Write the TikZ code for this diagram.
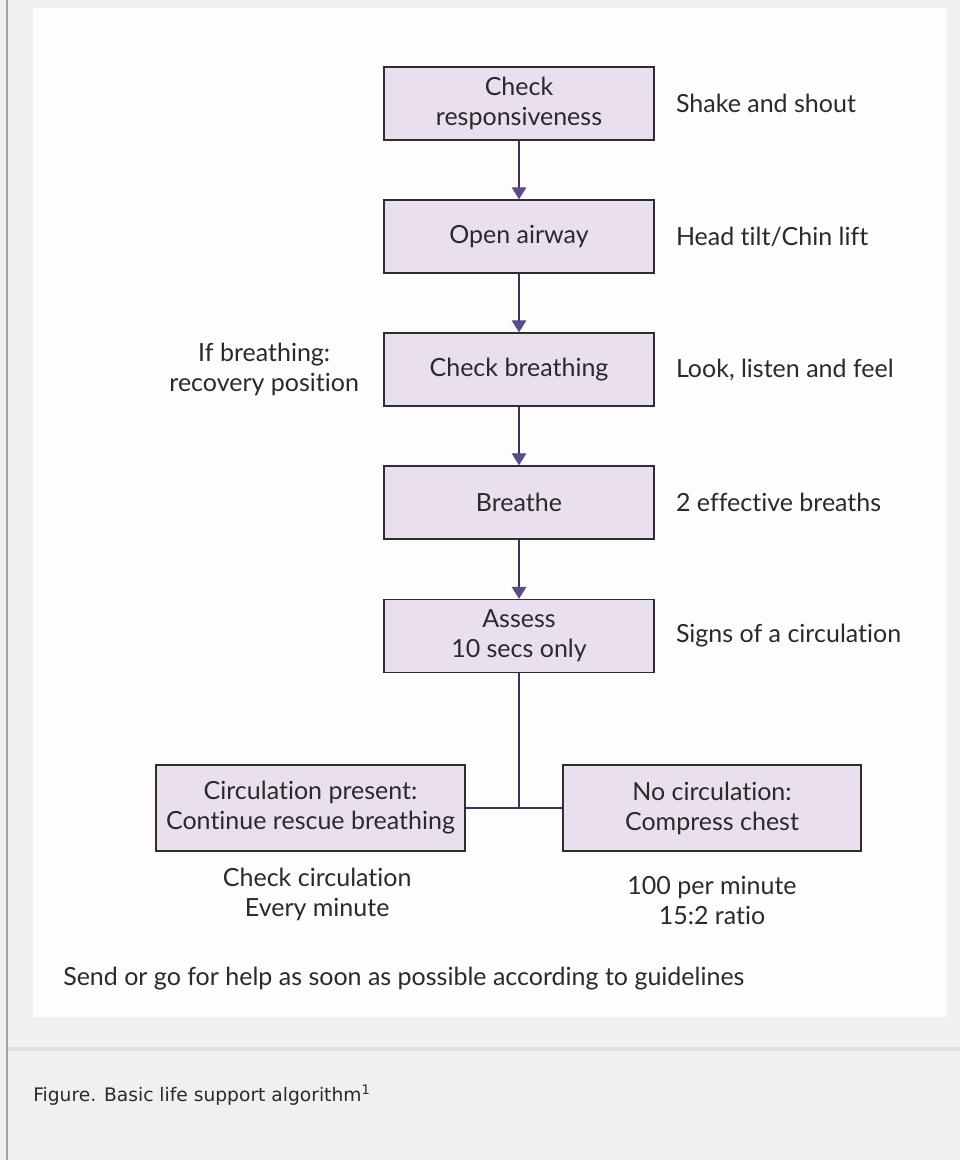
\documentclass[tikz,border=0pt]{standalone}
\usepackage{fontspec}
\setmainfont{Lato}[Ligatures=NoCommon]
\newfontfamily\captionfont{DejaVu Sans}
\usetikzlibrary{arrows.meta,positioning}
\definecolor{boxlilac}{HTML}{E9DFEE}
\definecolor{boxedge}{HTML}{2E2E2E}
\definecolor{linepurple}{HTML}{3A3358}
\definecolor{tippurple}{HTML}{5C4B8B}
\definecolor{pagegray}{HTML}{F0F0F0}
\definecolor{panelwhite}{HTML}{FDFDFD}
\definecolor{dividergray}{HTML}{E0E0E0}
\definecolor{edgegray}{HTML}{A4A4A4}
\definecolor{inktext}{HTML}{2A2A2A}
\tikzset{
  stepbox/.style={draw=boxedge, line width=1.1pt, fill=boxlilac, minimum width=202.5pt,
    minimum height=54.75pt, align=center, inner sep=0pt, text=inktext,
    font=\fontsize{18.75pt}{22.5pt}\selectfont},
  branchbox/.style={stepbox, minimum height=64.5pt},
  sidenote/.style={inner sep=0pt, align=center, text=inktext,
    font=\fontsize{18.75pt}{22.5pt}\selectfont},
  flowarrow/.style={draw=linepurple, line width=0.9pt,
    -{Triangle[width=11pt,length=9pt,color=tippurple]}},
  joinline/.style={draw=linepurple, line width=0.9pt}
}
\begin{document}
\begin{tikzpicture}[x=0.75pt, y=-0.75pt]
  % page and panel
  \fill[pagegray] (0,0) rectangle (960,1160);
  \useasboundingbox (0,0) rectangle (960,1160);
  \fill[edgegray] (6,0) rectangle (8,1160);
  \fill[panelwhite] (33,8) rectangle (947,1017);
  \fill[dividergray] (8,1047) rectangle (960,1051);

  % main steps
  \node[stepbox] (resp) at (519,103.5) {Check\\responsiveness};
  \node[stepbox] (airway) at (519,236.5) {Open airway};
  \node[stepbox] (breath) at (519,369.5) {Check breathing};
  \node[stepbox] (breathe) at (519,502.5) {Breathe};
  \node[stepbox] (assess) at (519,636) {Assess\\10 secs only};
  \node[branchbox, minimum width=231.75pt] (circ) at (310.5,808) {Circulation present:\\Continue rescue breathing};
  \node[branchbox, minimum width=223.5pt] (nocirc) at (712,808) {No circulation:\\Compress chest};

  \foreach \a/\b in {resp/airway, airway/breath, breath/breathe, breathe/assess}
    \draw[flowarrow] (\a) -- (\b);
  \draw[joinline] (circ.east) -- (nocirc.west);
  \draw[joinline] (assess.south) -- (assess.south |- circ.east);

  % notes
  \node[sidenote, right=15.75pt of resp] (shake) {Shake and shout};
  \node[sidenote, right=15.75pt of airway] (tilt) {Head tilt/Chin lift};
  \node[sidenote, right=15.75pt of breath] (look) {Look, listen and feel};
  \node[sidenote, right=15.75pt of breathe] (twobr) {2 effective breaths};
  \node[sidenote, right=15.75pt of assess] (signs) {Signs of a circulation};
  \node[sidenote, left=18pt of breath] (recov) {If breathing:\\recovery position};
  \node[sidenote, below=12pt of circ, xshift=5pt] (checkcirc) {Check circulation\\Every minute};
  \node[sidenote, below=18pt of nocirc] (rate) {100 per minute\\15:2 ratio};
  \node[sidenote, anchor=base west] (sendhelp) at (63,985) {Send or go for help as soon as possible according to guidelines};

  % caption
  \node[anchor=base west, inner sep=0pt, text=inktext,
    font=\captionfont\fontsize{14pt}{16pt}\selectfont] (figcap) at (33,1101)
    {Figure. Basic life support algorithm\textsuperscript{1}};
\end{tikzpicture}
\end{document}
